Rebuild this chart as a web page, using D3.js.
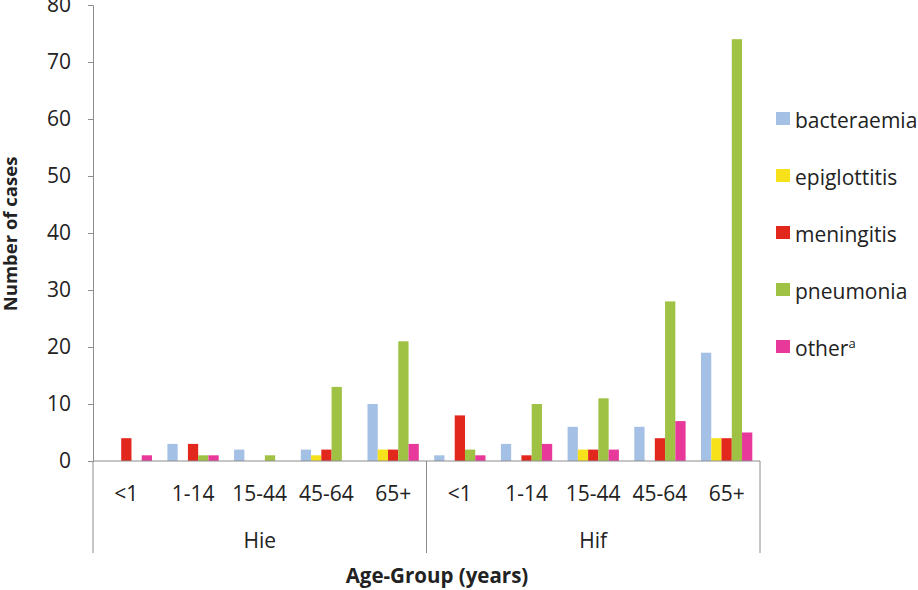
<!DOCTYPE html>
<html>
<head>
<meta charset="utf-8">
<title>Cases by age group</title>
<script src="https://d3js.org/d3.v7.min.js"></script>
<style>
  body { margin: 0; background: #fff; }
  text { font-family: "Open Sans", sans-serif; fill: #222; }
</style>
</head>
<body>
<div id="chart"></div>
<script>
// data
var groups = ["Hie", "Hif"];
var ages = ["<1", "1-14", "15-44", "45-64", "65+"];
var series = ["bacteraemia", "epiglottitis", "meningitis", "pneumonia", "other"];
var colors = ["#a5c0e5", "#f6e11a", "#e2271d", "#9fc144", "#e8399b"];
var yTicks = [0, 10, 20, 30, 40, 50, 60, 70, 80];

// values per age group, order of series
var hie = [
  [0, 0, 4, 0, 1],
  [3, 0, 3, 1, 1],
  [2, 0, 0, 1, 0],
  [2, 1, 2, 13, 0],
  [10, 2, 2, 21, 3]
];
var hif = [
  [1, 0, 8, 2, 1],
  [3, 0, 1, 10, 3],
  [6, 2, 2, 11, 2],
  [6, 0, 4, 28, 7],
  [19, 4, 4, 74, 5]
];
var values = { Hie: hie, Hif: hif };

var W = 918, H = 590;
var plotLeft = 93, plotRight = 760, plotTop = 5, plotBase = 461;

var svg = d3.select("#chart").append("svg")
  .attr("width", W).attr("height", H);

var y = d3.scaleLinear().domain([0, 80]).range([plotBase, plotTop]);
var x0 = d3.scaleBand().domain(groups).range([plotLeft, plotRight]);
var x1 = d3.scaleBand().domain(ages).range([0, x0.bandwidth()]);
var x2 = d3.scaleBand().domain(series).range([0, x1.bandwidth()]).paddingOuter(0.75);

// bars
groups.forEach(function(g) {
  ages.forEach(function(a, i) {
    svg.append("g")
      .attr("transform", "translate(" + (x0(g) + x1(a)) + ",0)")
      .selectAll("rect")
      .data(series)
      .enter().append("rect")
        .attr("x", function(s) { return x2(s); })
        .attr("width", x2.bandwidth())
        .attr("y", function(s, k) { return y(values[g][i][k]); })
        .attr("height", function(s, k) { return plotBase - y(values[g][i][k]); })
        .attr("fill", function(s, k) { return colors[k]; });
  });
});

// y axis
var yAxis = svg.append("g")
  .attr("transform", "translate(" + plotLeft + ",0)")
  .call(d3.axisLeft(y).tickValues(yTicks).tickSize(5).tickPadding(17));
yAxis.select(".domain").attr("stroke", "#8c8c8c");
yAxis.selectAll(".tick line").attr("stroke", "#8c8c8c");
yAxis.selectAll(".tick text").style("font-size", "21px").attr("fill", "#222");

// x axis line and separators
svg.append("line")
  .attr("x1", plotLeft).attr("x2", plotRight).attr("y1", plotBase).attr("y2", plotBase)
  .attr("stroke", "#8c8c8c");
[plotLeft, x0("Hif"), plotRight].forEach(function(xx) {
  svg.append("line")
    .attr("x1", xx).attr("x2", xx).attr("y1", plotBase).attr("y2", 553)
    .attr("stroke", "#8c8c8c");
});

// category labels
groups.forEach(function(g) {
  ages.forEach(function(a) {
    svg.append("text")
      .attr("x", x0(g) + x1(a) + x1.bandwidth() / 2)
      .attr("y", 501)
      .attr("text-anchor", "middle")
      .style("font-size", "21px")
      .text(a);
  });
  svg.append("text")
    .attr("x", x0(g) + x0.bandwidth() / 2)
    .attr("y", 548)
    .attr("text-anchor", "middle")
    .style("font-size", "21px")
    .text(g);
});

// axis titles
svg.append("text")
  .attr("x", 437).attr("y", 583)
  .attr("text-anchor", "middle")
  .style("font-size", "20.5px").style("font-weight", "bold")
  .text("Age-Group (years)");
svg.append("text")
  .attr("transform", "translate(17,234) rotate(-90)")
  .attr("text-anchor", "middle")
  .style("font-size", "18.5px").style("font-weight", "bold")
  .text("Number of cases");

// legend
var leg = svg.append("g").attr("transform", "translate(776,0)");
series.forEach(function(s, k) {
  var yy = 112 + k * 57;
  leg.append("rect")
    .attr("x", 0).attr("y", yy).attr("width", 14).attr("height", 13)
    .attr("fill", colors[k]);
  var t = leg.append("text")
    .attr("x", 19).attr("y", yy + 16)
    .style("font-size", "21px")
    .text(s);
  if (s === "other") {
    t.append("tspan").attr("dy", -8).style("font-size", "13px").text("a");
  }
});
</script>
</body>
</html>
